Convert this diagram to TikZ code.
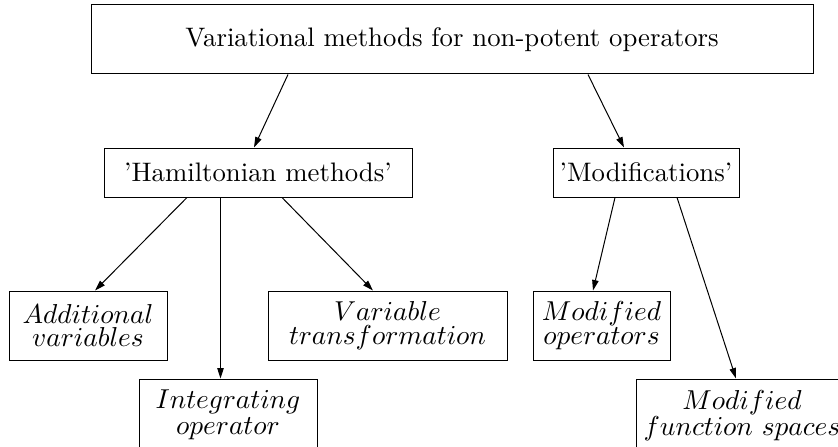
\documentclass[tikz,border=0pt]{standalone}
\usetikzlibrary{arrows.meta}
\newdimen\pxu \pxu=0.4pt
\begin{document}
\begin{tikzpicture}[x=0.4pt,y=-0.4pt,
  box/.style={draw,line width=0.4pt,inner sep=0pt,align=center,font=\fontsize{10.7}{12}\selectfont},
  leaf/.style={box,font=\fontsize{10.7}{9.4}\selectfont},
  lowleaf/.style={box,font=\fontsize{10.7}{10.4}\selectfont},
  arr/.style={line width=0.4pt,-{Triangle[length=4.2pt,width=2.6pt]}}]
\useasboundingbox (0,0) rectangle (838,446);
\begin{scope}
\clip (0,0) rectangle (838,446);
\node[box,minimum width=722\pxu,minimum height=69\pxu] (top) at (452,39.5) {Variational methods for non-potent operators};
\node[box,minimum width=308\pxu,minimum height=49\pxu] (ham) at (258,172.5) {'Hamiltonian methods'};
\node[box,minimum width=186\pxu,minimum height=49\pxu] (mod) at (646,172.5) {'Modifications'};
\node[leaf,minimum width=158\pxu,minimum height=69\pxu] (add) at (88,325.5) {$Additional$\\$variables$};
\node[leaf,minimum width=239\pxu,minimum height=69\pxu] (var) at (387.5,325.5) {$Variable$\\$transformation$};
\node[leaf,minimum width=137\pxu,minimum height=69\pxu] (mop) at (601.5,325.5) {$Modified$\\$operators$};
\node[lowleaf,minimum width=178\pxu,minimum height=71\pxu] (int) at (228,414.5) {$Integrating$\\$operator$};
\node[lowleaf,minimum width=224\pxu,minimum height=74\pxu] (mfs) at (748,416) {\hspace*{-12\pxu}$Modified$\\\hspace*{-12\pxu}$function\ spaces$};
\end{scope}
\draw[arr] ([xshift=-164\pxu]top.south) -- ([xshift=-4\pxu]ham.north);
\draw[arr] ([xshift=136\pxu]top.south) -- ([xshift=-22\pxu]mod.north);
\draw[arr] ([xshift=-71\pxu]ham.south) -- ([xshift=7\pxu]add.north);
\draw[arr] ([xshift=-37.5\pxu]ham.south) -- ([xshift=-7.5\pxu]int.north);
\draw[arr] ([xshift=24\pxu]ham.south) -- ([xshift=-14.5\pxu]var.north);
\draw[arr] ([xshift=-31\pxu]mod.south) -- ([xshift=-8.5\pxu]mop.north);
\draw[arr] ([xshift=31\pxu]mod.south) -- ([xshift=-12\pxu]mfs.north);
\end{tikzpicture}
\end{document}
